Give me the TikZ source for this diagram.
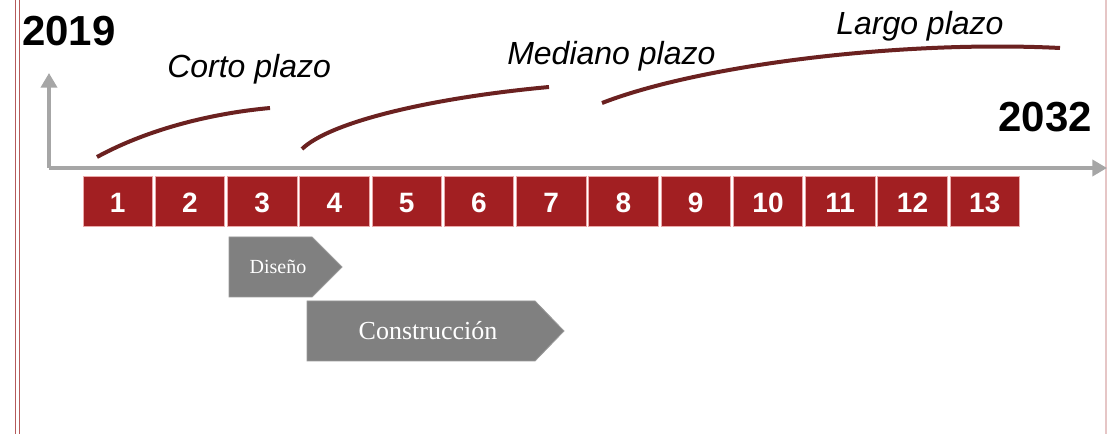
\documentclass[tikz,border=0pt]{standalone}
\usepackage{fontspec}
\setmainfont{Liberation Sans}
\newfontfamily\phasefont{Liberation Serif}
\usepackage{tikz}
\usetikzlibrary{arrows.meta}
\definecolor{boxred}{HTML}{A21F22}
\definecolor{boxedge}{HTML}{EBA9A9}
\definecolor{span}{HTML}{6B2120}
\definecolor{axis}{HTML}{A6A6A6}
\definecolor{phase}{HTML}{808080}
\definecolor{margin}{HTML}{B55A5A}
\definecolor{edge}{HTML}{E6C6C6}
\tikzset{
  axisline/.style={draw=axis, line width=3pt, -{Triangle[length=11pt,width=12pt]}},
  spanline/.style={draw=span, line width=3pt},
  yearbox/.style={fill=boxred, draw=boxedge, line width=0.6pt, minimum width=52pt,
    minimum height=37pt, inner sep=0pt, text height=17.2pt, text depth=0pt,
    text=white, font=\fontsize{21}{21}\selectfont\bfseries},
  phasebox/.style={fill=phase, draw=phase!80!white, line width=0.6pt},
  phasetext/.style={text=white, inner sep=0pt},
  year/.style={inner sep=0pt, font=\fontsize{31.5}{31.5}\selectfont\bfseries},
  term/.style={inner sep=0pt, anchor=base west, font=\fontsize{24}{24}\selectfont\itshape}
}

\begin{document}
\begin{tikzpicture}[x=0.75pt, y=-0.75pt]
  \useasboundingbox (0,0) rectangle (1107,434);
  \fill[white] (0,0) rectangle (1107,434);

  % page margins
  \draw[margin, line width=0.9pt] (15.5,0) -- (15.5,434);
  \draw[margin, line width=0.9pt] (19.5,0) -- (19.5,434);
  \draw[edge, line width=0.9pt] (1106,0) -- (1106,434);

  % axes
  \coordinate (O) at (49,168);
  \coordinate (T) at (49,73);
  \coordinate (E) at (1107,168);
  \draw[axisline] (O) -- (T);
  \draw[axisline] (O) -- (E);

  % years
  \foreach \i in {1,...,13}
    \node[yearbox] (y\i) at ({117.75+72.25*(\i-1)},201.5) {\i};

  \node[year, anchor=base west] (start) at (22,46) {2019};
  \node[year, anchor=base east] (end) at (1092,132) {2032};

  % horizons
  \draw[spanline] (97,157) .. controls (150,128) and (215,113) .. (270,108);
  \draw[spanline] (302,149) .. controls (330,122) and (430,98) .. (549,87);
  \draw[spanline] (602,103) .. controls (700,65) and (900,40) .. (1060,48);
  \node[term] (corto) at (167,78) {Corto plazo};
  \node[term] (mediano) at (507,65) {Mediano plazo};
  \node[term] (largo) at (836,35) {Largo plazo};

  % phases
  \draw[phasebox] (229,237) -- (312,237) -- (342,267) -- (312,297) -- (229,297) -- cycle;
  \node[phasetext, font=\phasefont\fontsize{15}{15}\selectfont] (diseno) at (278,267) {Diseño};
  \draw[phasebox] (307,301) -- (535,301) -- (564,331) -- (535,361) -- (307,361) -- cycle;
  \node[phasetext, font=\phasefont\fontsize{19.5}{19.5}\selectfont] (constr) at (428,331) {Construcción};
\end{tikzpicture}
\end{document}
